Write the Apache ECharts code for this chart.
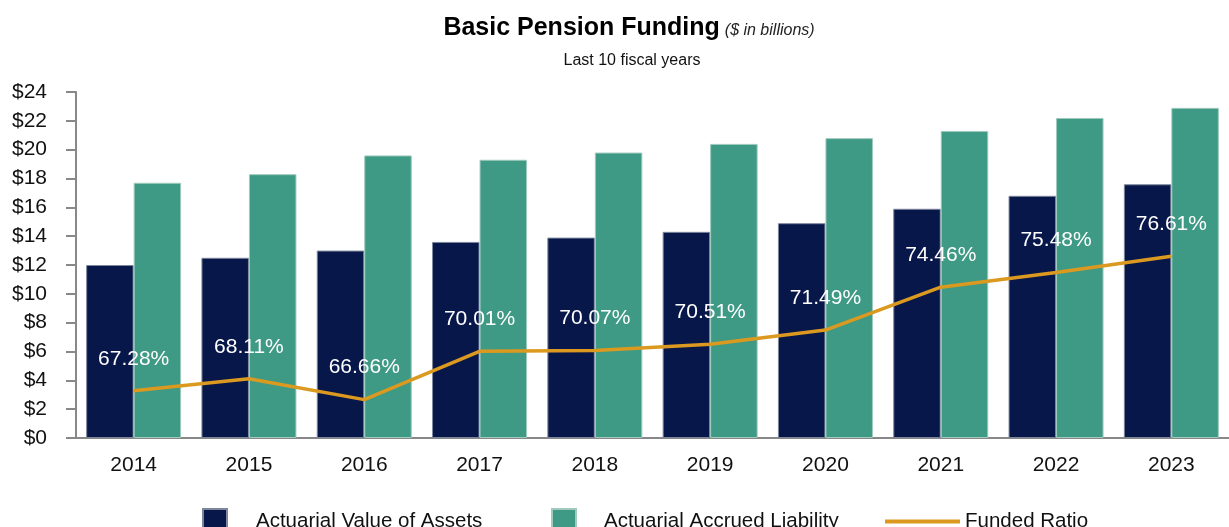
<!DOCTYPE html>
<html>
<head>
<meta charset="utf-8">
<script src="https://cdn.jsdelivr.net/npm/echarts@6/dist/echarts.min.js"></script>
<style>
  html, body { margin: 0; padding: 0; background: #fff; }
  #chart { width: 1229px; height: 527px; }
</style>
</head>
<body>
<div id="chart"></div>
<script>
// fiscal years and values ($ in billions)
const years = ['2014', '2015', '2016', '2017', '2018', '2019', '2020', '2021', '2022', '2023']
const assets = [12.0, 12.5, 13.0, 13.6, 13.9, 14.3, 14.9, 15.9, 16.8, 17.6]
const liability = [17.7, 18.3, 19.6, 19.3, 19.8, 20.4, 20.8, 21.3, 22.2, 22.9]
const fundedRatio = [67.28, 68.11, 66.66, 70.01, 70.07, 70.51, 71.49, 74.46, 75.48, 76.61]

// no narrow font installed, so a smaller regular sans keeps the widths right
const SANS = '"Liberation Sans", Arial, sans-serif'

const chart = echarts.init(document.getElementById('chart'))

const legendText = { color: '#111', fontSize: 20.5, fontFamily: SANS }

chart.setOption({
  backgroundColor: '#fff',
  animation: false,
  title: [
    {
      left: 624,
      textAlign: 'center',
      top: 11,
      text: '{b|Basic Pension Funding} {i|($ in billions)}',
      textStyle: {
        rich: {
          b: { fontSize: 25, fontWeight: 'bold', fontFamily: SANS, color: '#000', verticalAlign: 'bottom' },
          i: { fontSize: 16, fontStyle: 'italic', fontWeight: 'normal', fontFamily: SANS, color: '#222', verticalAlign: 'bottom', padding: [0, 0, 2, 0] }
        }
      }
    },
    {
      left: 627,
      textAlign: 'center',
      top: 48,
      text: 'Last 10 fiscal years',
      textStyle: { fontSize: 16, fontWeight: 'normal', fontFamily: SANS, color: '#111' }
    }
  ],
  legend: [
    {
      data: ['Actuarial Value of Assets'],
      left: 197, top: 503,
      itemWidth: 24, itemHeight: 24, icon: 'rect',
      textStyle: Object.assign({ padding: [0, 0, 0, 24] }, legendText)
    },
    {
      data: ['Actuarial Accrued Liability'],
      left: 546, top: 503,
      itemWidth: 24, itemHeight: 24, icon: 'rect',
      textStyle: Object.assign({ padding: [0, 0, 0, 23] }, legendText)
    },
    {
      data: ['Funded Ratio'],
      left: 880, top: 506,
      itemWidth: 75, itemHeight: 4, icon: 'rect',
      textStyle: Object.assign({ padding: [0, 0, 0, 0] }, legendText)
    }
  ],
  grid: { left: 76, top: 92, width: 1164, height: 346 },
  xAxis: {
    type: 'category',
    data: years,
    axisLine: { lineStyle: { color: '#888', width: 2 } },
    axisTick: { alignWithLabel: true, length: 9, lineStyle: { color: '#888', width: 2 } },
    axisLabel: { color: '#111', fontSize: 21, fontFamily: SANS, margin: 17 }
  },
  yAxis: [
    {
      type: 'value',
      min: 0,
      max: 24,
      interval: 2,
      axisLine: { show: true, lineStyle: { color: '#888', width: 2 } },
      axisTick: { show: true, length: 10, lineStyle: { color: '#888', width: 2 } },
      axisLabel: { color: '#111', fontSize: 21, fontFamily: SANS, margin: 29, formatter: v => '$' + v },
      splitLine: { show: false }
    },
    {
      type: 'value',
      min: 64,
      max: 88,
      show: false,
      splitLine: { show: false }
    }
  ],
  series: [
    {
      name: 'Actuarial Value of Assets',
      type: 'bar',
      data: assets,
      barWidth: 47.5,
      barGap: '0%',
      itemStyle: { color: '#08174a', borderColor: '#7d879c', borderWidth: 1 }
    },
    {
      name: 'Actuarial Accrued Liability',
      type: 'bar',
      data: liability,
      barWidth: 47.5,
      itemStyle: { color: '#3e9985', borderColor: '#9fcabd', borderWidth: 1 }
    },
    {
      name: 'Funded Ratio',
      type: 'line',
      yAxisIndex: 1,
      data: fundedRatio,
      symbol: 'circle',
      symbolSize: 1,
      lineStyle: { color: '#db9a1f', width: 3.5 },
      itemStyle: { color: '#db9a1f' },
      label: {
        show: true,
        position: 'top',
        distance: 21,
        color: '#fff',
        fontSize: 21,
        fontFamily: SANS,
        formatter: p => p.value.toFixed(2) + '%'
      },
      labelLayout: { hideOverlap: false }
    }
  ]
})
</script>
</body>
</html>
